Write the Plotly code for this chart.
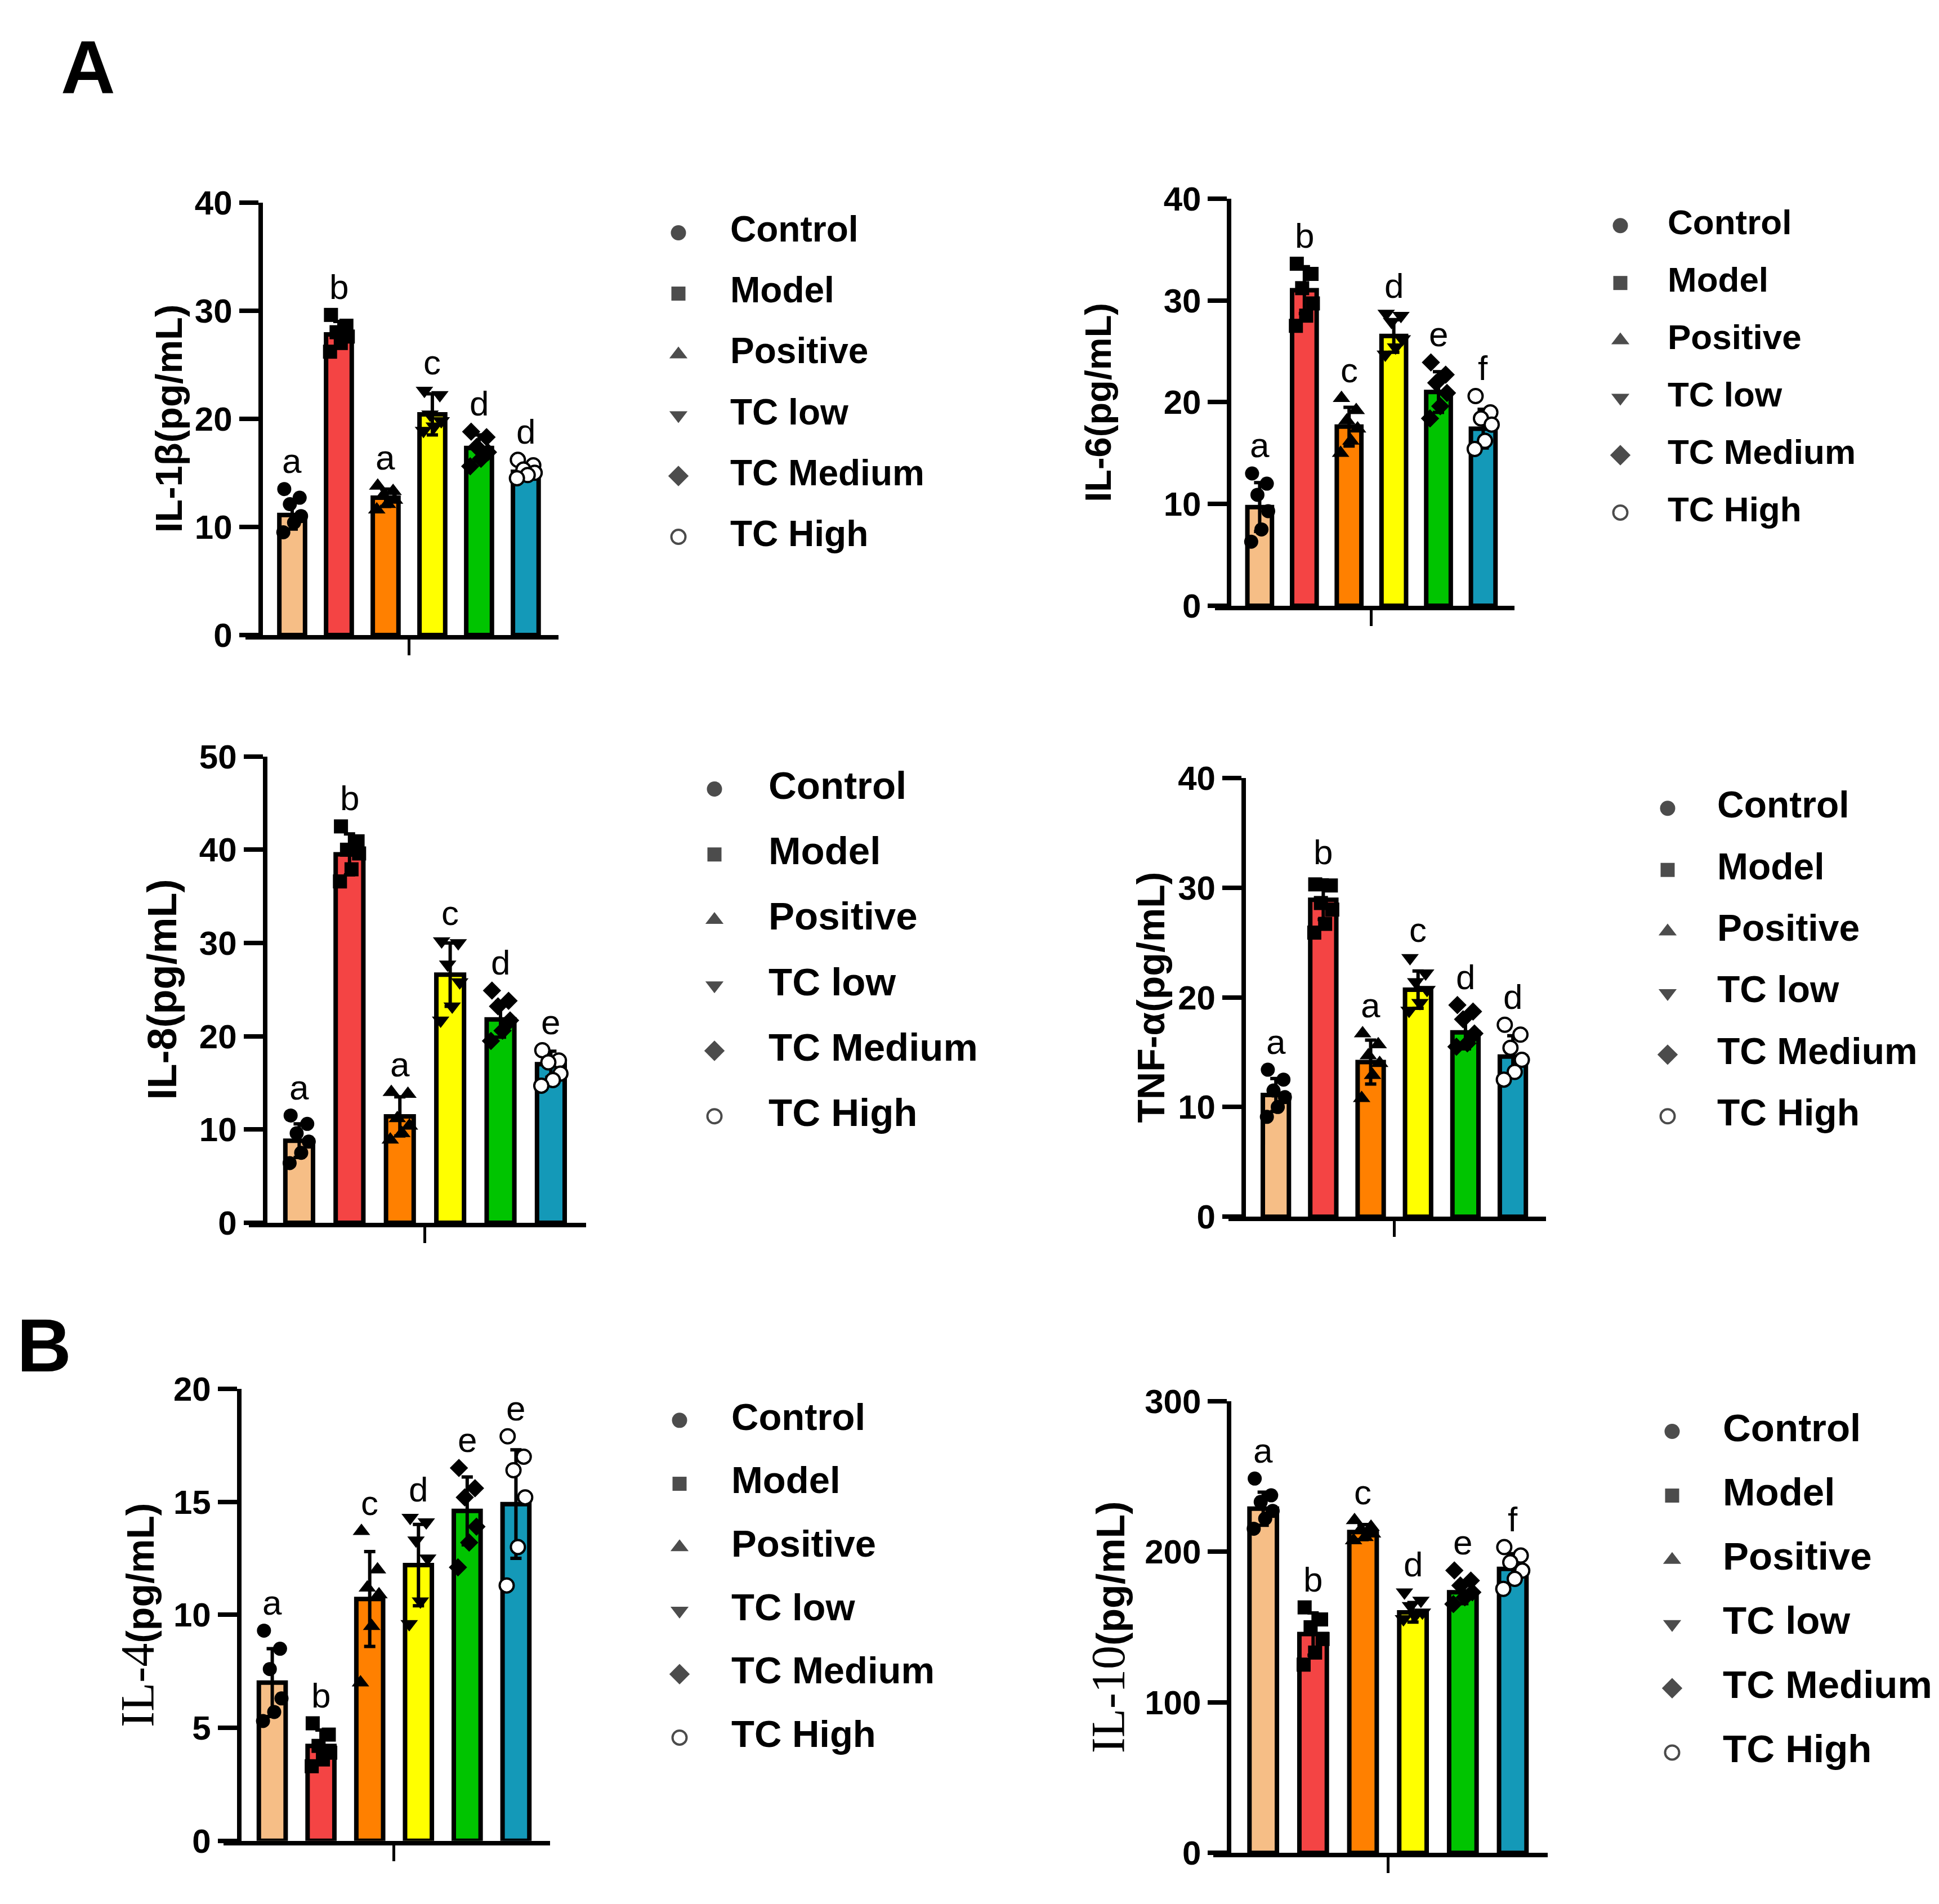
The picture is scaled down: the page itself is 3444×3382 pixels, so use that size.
import plotly.graph_objects as go

W, H = 3444, 3382

# --- groups / styling shared by all six panels ---
GROUPS = ["Control", "Model", "Positive", "TC low", "TC Medium", "TC High"]
COLORS = ["#F6BE86", "#F44444", "#FF8000", "#FFFF00", "#00C400", "#1499B8"]
SYMBOLS = ["circle", "square", "triangle-up", "triangle-down", "diamond", "circle"]
PT_FILL = ["black", "black", "black", "black", "black", "white"]
PT_LINE = [0, 0, 0, 0, 0, 4]
JITTER = [-0.17, 0.16, -0.05, 0.19, 0.04, -0.19]   # fixed spread of dots inside a bar

# --- IL-1β ---
il1b_mean = [11.1, 27.8, 12.7, 20.4, 17.3, 15.1]
il1b_sd = [1.3, 1.2, 0.8, 1.9, 1.2, 0.6]
il1b_pts = [[13.5, 12.7, 12.1, 11.0, 10.4, 9.5],
            [29.6, 28.6, 28.0, 27.6, 27.0, 26.2],
            [13.8, 13.3, 12.9, 12.5, 12.1, 11.6],
            [22.6, 22.2, 20.4, 19.8, 19.3, 18.9],
            [18.8, 18.3, 17.4, 16.9, 16.3, 15.6],
            [16.2, 15.7, 15.3, 15.0, 14.8, 14.5]]
il1b_letters = ["a", "b", "a", "c", "d", "d"]

# --- IL-6 ---
il6_mean = [9.7, 31.0, 17.6, 26.5, 21.0, 17.4]
il6_sd = [2.4, 2.3, 1.9, 1.6, 2.0, 1.9]
il6_pts = [[13.0, 12.0, 10.9, 9.3, 7.5, 6.3],
           [33.6, 32.6, 31.2, 29.7, 28.5, 27.5],
           [20.4, 19.2, 18.2, 17.4, 16.2, 15.0],
           [28.7, 28.5, 27.9, 26.2, 25.4, 24.7],
           [23.9, 22.7, 21.9, 20.9, 19.6, 18.4],
           [20.6, 19.0, 18.4, 17.8, 16.2, 15.4]]
il6_letters = ["a", "b", "c", "d", "e", "f"]

# --- IL-8 ---
il8_mean = [8.8, 39.5, 11.4, 26.6, 21.8, 17.0]
il8_sd = [1.8, 2.2, 2.1, 3.4, 1.9, 1.4]
il8_pts = [[11.5, 10.6, 9.6, 8.7, 7.5, 6.4],
           [42.5, 40.9, 40.0, 39.6, 37.9, 36.6],
           [14.0, 13.8, 11.2, 10.4, 9.6, 8.9],
           [30.2, 30.0, 27.7, 25.8, 23.2, 21.7],
           [24.9, 23.8, 23.2, 21.7, 20.6, 19.5],
           [18.5, 17.4, 17.2, 16.0, 15.3, 14.7]]
il8_letters = ["a", "b", "a", "c", "d", "e"]

# --- TNF-α ---
tnf_mean = [11.1, 28.9, 14.1, 20.7, 16.8, 14.6]
tnf_sd = [1.5, 1.8, 2.0, 1.7, 1.5, 1.9]
tnf_pts = [[13.4, 12.5, 11.5, 10.9, 10.0, 9.1],
           [30.3, 30.2, 28.6, 28.0, 26.7, 25.9],
           [16.7, 15.7, 14.7, 14.0, 12.9, 10.8],
           [23.6, 22.2, 21.4, 20.7, 19.5, 18.8],
           [19.3, 18.7, 18.0, 16.7, 15.8, 15.5],
           [17.5, 16.6, 15.4, 14.3, 13.2, 12.5]]
tnf_letters = ["a", "b", "a", "c", "d", "d"]

# --- IL-4 ---
il4_mean = [7.0, 4.2, 10.7, 12.2, 14.6, 14.9]
il4_sd = [1.5, 0.7, 2.1, 1.8, 1.5, 2.4]
il4_pts = [[9.3, 8.5, 7.6, 6.3, 5.7, 5.3],
           [5.2, 4.7, 4.2, 3.9, 3.6, 3.3],
           [13.7, 12.0, 11.2, 10.9, 9.5, 7.0],
           [14.3, 14.1, 13.3, 12.5, 10.6, 9.6],
           [16.5, 15.6, 15.2, 13.9, 13.2, 12.1],
           [17.9, 17.0, 16.4, 15.2, 13.0, 11.3]]
il4_letters = ["a", "b", "c", "d", "e", "e"]

# --- IL-10 ---
il10_mean = [228.5, 145.3, 213.0, 159.7, 173.0, 188.6]
il10_sd = [11, 14, 5, 6.5, 7.5, 10]
il10_pts = [[248.5, 237.4, 233.0, 227.0, 221.9, 215.2],
            [163.0, 155.0, 149.8, 142.0, 133.0, 125.0],
            [220.8, 216.4, 214.2, 211.9, 209.6, 207.4],
            [173.0, 167.5, 164.0, 159.7, 157.5, 155.3],
            [187.5, 180.8, 177.5, 173.0, 169.7, 165.2],
            [203.0, 197.4, 192.9, 187.4, 181.9, 175.3]]
il10_letters = ["a", "b", "c", "d", "e", "f"]

SERIF = '<span style="font-family:Liberation Serif;font-weight:normal;font-size:84px">%s</span>'

# panel layout: pixel boxes (x-axis start/end, top/bottom of value axis), legend rows
panels = [
    dict(mean=il1b_mean, sd=il1b_sd, pts=il1b_pts, let=il1b_letters, ymax=40, dtick=10,
         title="<b>IL-1β(pg/mL)</b>", tsize=67, toff=163,
         box=(428, 984, 325, 1109), leg=(1197, 1289, 380, 931), lsize=64),
    dict(mean=il6_mean, sd=il6_sd, pts=il6_pts, let=il6_letters, ymax=40, dtick=10,
         title="<b>IL-6(pg/mL)</b>", tsize=65, toff=233,
         box=(2150, 2682, 318, 1056), leg=(2870, 2954, 367, 887), lsize=62),
    dict(mean=il8_mean, sd=il8_sd, pts=il8_pts, let=il8_letters, ymax=50, dtick=10,
         title="<b>IL-8(pg/mL)</b>", tsize=72, toff=183,
         box=(434, 1033, 1329, 2174), leg=(1261, 1357, 1388, 1981), lsize=69),
    dict(mean=tnf_mean, sd=tnf_sd, pts=tnf_pts, let=tnf_letters, ymax=40, dtick=10,
         title="<b>TNF-α(pg/mL)</b>", tsize=68, toff=165,
         box=(2174, 2738, 1368, 2163), leg=(2954, 3042, 1423, 1981), lsize=66),
    dict(mean=il4_mean, sd=il4_sd, pts=il4_pts, let=il4_letters, ymax=20, dtick=5,
         title=SERIF % "IL-4" + "<b>(pg/mL)</b>", tsize=68, toff=180,
         box=(389, 969, 2475, 3294), leg=(1199, 1291, 2532, 3107), lsize=67),
    dict(mean=il10_mean, sd=il10_sd, pts=il10_pts, let=il10_letters, ymax=300, dtick=100,
         title=SERIF % "IL-10" + "<b>(pg/mL)</b>", tsize=70, toff=214,
         box=(2147, 2741, 2497, 3316), leg=(2962, 3052, 2552, 3134), lsize=69),
]

XR = [-1.0, 5.7]
FONT = "Liberation Sans, Arial"

fig = go.Figure()
layout = {}
annots = []

for i, p in enumerate(panels, start=1):
    xa, ya = f"x{i}", f"y{i}"
    x0, x1, yt, yb = p["box"]
    xpos = list(range(len(GROUPS)))

    fig.add_trace(go.Bar(
        x=xpos, y=p["mean"], width=0.55, xaxis=xa, yaxis=ya,
        marker=dict(color=COLORS, line=dict(color="black", width=8)),
        error_y=dict(type="data", array=p["sd"], color="black", thickness=6, width=10),
    ))
    for g in range(len(GROUPS)):
        fig.add_trace(go.Scatter(
            x=[g + j for j in JITTER], y=p["pts"][g], mode="markers",
            xaxis=xa, yaxis=ya, cliponaxis=False,
            marker=dict(symbol=SYMBOLS[g], size=27 if g in (2, 3) else 25, color=PT_FILL[g],
                        line=dict(color="black", width=PT_LINE[g])),
        ))
        top = max(max(p["pts"][g]), p["mean"][g] + p["sd"][g])
        annots.append(dict(x=g, y=top, xref=xa, yref=ya, text=p["let"][g], showarrow=False,
                           yanchor="middle", yshift=50, font=dict(family=FONT, size=62, color="black")))

    ypos_axis = (x0 + (0.32 / (XR[1] - XR[0])) * (x1 - x0)) / W
    layout[f"xaxis{i}"] = dict(domain=[x0 / W, x1 / W], range=XR, anchor=ya,
                               showline=True, linecolor="black", linewidth=8,
                               ticks="outside", tickvals=[2.5], ticklen=28, tickwidth=5,
                               tickcolor="black", showticklabels=False,
                               showgrid=False, zeroline=False)
    layout[f"yaxis{i}"] = dict(domain=[1 - yb / H, 1 - yt / H], range=[0, p["ymax"]],
                               anchor="free", position=ypos_axis,
                               tickmode="linear", tick0=0, dtick=p["dtick"],
                               showline=True, linecolor="black", linewidth=8,
                               ticks="outside", ticklen=34, tickwidth=8, tickcolor="black",
                               tickfont=dict(family=FONT, size=60, color="black", weight="bold"),
                               showgrid=False, zeroline=False)
    annots.append(dict(x=ypos_axis - p["toff"] / W, y=1 - (yt + yb) / 2 / H, xref="paper", yref="paper",
                       text=p["title"], textangle=-90, showarrow=False,
                       xanchor="center", yanchor="middle",
                       font=dict(family=FONT, size=p["tsize"], color="black")))

    # legend drawn on its own hidden axis pair
    li = i + 6
    mx, tx, r0, r1 = p["leg"]
    layout[f"xaxis{li}"] = dict(domain=[mx / W, tx / W], range=[0, 1], visible=False,
                                anchor=f"y{li}")
    layout[f"yaxis{li}"] = dict(domain=[1 - r1 / H, 1 - r0 / H], range=[5, 0], visible=False,
                                anchor=f"x{li}")
    fig.add_trace(go.Scatter(
        x=[0] * len(GROUPS), y=xpos, mode="markers", xaxis=f"x{li}", yaxis=f"y{li}",
        cliponaxis=False,
        marker=dict(symbol=SYMBOLS, size=[27, 25, 28, 28, 28, 25], color=PT_FILL,
                    line=dict(color="black", width=PT_LINE)),
    ))
    fig.add_trace(go.Scatter(
        x=[1] * len(GROUPS), y=xpos, mode="text", text=GROUPS, textposition="middle right",
        xaxis=f"x{li}", yaxis=f"y{li}", cliponaxis=False,
        textfont=dict(family=FONT, size=p["lsize"], color="black", weight="bold"),
    ))

annots.append(dict(x=98 / W, y=1 - 80 / H, xref="paper", yref="paper", text="<b>A</b>",
                   showarrow=False, xanchor="left", yanchor="middle",
                   font=dict(family=FONT, size=134, color="black")))
annots.append(dict(x=20 / W, y=1 - 2396 / H, xref="paper", yref="paper", text="<b>B</b>",
                   showarrow=False, xanchor="left", yanchor="middle",
                   font=dict(family=FONT, size=134, color="black")))

fig.update_layout(width=W, height=H, margin=dict(l=0, r=0, t=0, b=0),
                  paper_bgcolor="white", plot_bgcolor="white",
                  showlegend=False, annotations=annots, **layout)

fig.write_html("out.html")
